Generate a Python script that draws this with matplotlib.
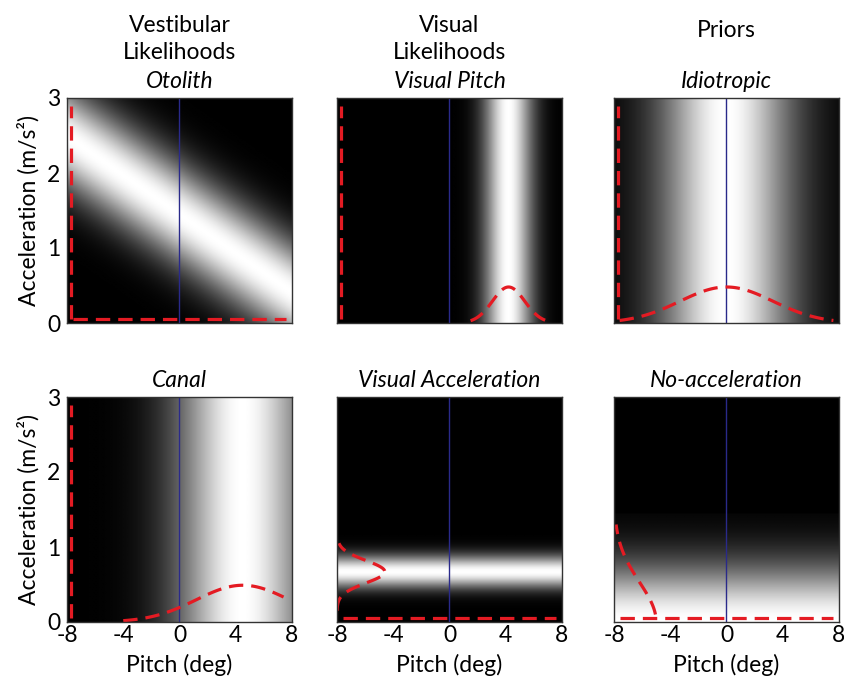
import numpy as np
import matplotlib.pyplot as plt

plt.rcParams['font.family'] = ['Lato', 'DejaVu Sans']
plt.rcParams['axes.unicode_minus'] = False

# axes ranges and ticks
pitch_lim = [-8, 8]
accel_lim = [0, 3]
pitch_ticks = [-8, -4, 0, 4, 8]
accel_ticks = [0, 1, 2, 3]

headers = [['Vestibular', 'Likelihoods'], ['Visual', 'Likelihoods'], ['Priors']]
titles = ['Otolith', 'Visual Pitch', 'Idiotropic',
          'Canal', 'Visual Acceleration', 'No-acceleration']

# gaussian parameters
otolith_center = 1.45    # m/s2 at pitch 0
otolith_slope = -0.13    # m/s2 per deg
otolith_sigma = 0.48
vis_pitch_mu, vis_pitch_sigma = 4.2, 1.2
idio_mu, idio_sigma = 0.0, 3.3
canal_mu, canal_sigma = 4.5, 3.3
vis_acc_mu, vis_acc_sigma = 0.67, 0.15
noacc_sigma, noacc_cut = 0.53, 1.45

# red dashed marginals
flat_pitch_level = 0.05          # y of flat pitch marginal
flat_pitch_range = [-7.6, 7.6]
flat_accel_level = -7.75         # x of flat acceleration marginal
flat_accel_range = [0.05, 2.9]
# pitch marginals: (mu, sigma, peak, pitch from, pitch to)
vis_pitch_marg = [vis_pitch_mu, 1.15, 0.48, 1.5, 6.8]
idio_marg = [idio_mu, idio_sigma, 0.48, -7.6, 7.6]
canal_marg = [canal_mu, canal_sigma, 0.49, -4.0, 7.4]
# acceleration marginals: (mu, sigma, peak, accel from, accel to)
vis_acc_marg = [vis_acc_mu, vis_acc_sigma, 3.4, 0.15, 1.05]
noacc_marg = [0.0, noacc_sigma, 3.0, 0.1, 1.3]

red = '#e41b23'
navy = '#2a2a8a'
dash = (0, (4.5, 2.5))
fs = 16.5

pitch = np.linspace(pitch_lim[0], pitch_lim[1], 400)
accel = np.linspace(accel_lim[0], accel_lim[1], 400)
P, A = np.meshgrid(pitch, accel)


def gauss(x, mu, sig):
    return np.exp(-(x - mu) ** 2 / (2 * sig ** 2))


images = [
    gauss(A, otolith_center + otolith_slope * P, otolith_sigma),
    gauss(P, vis_pitch_mu, vis_pitch_sigma),
    gauss(P, idio_mu, idio_sigma),
    gauss(P, canal_mu, canal_sigma),
    gauss(A, vis_acc_mu, vis_acc_sigma) * np.ones_like(P),
    gauss(A, 0.0, noacc_sigma) * (A < noacc_cut),
]
pitch_margs = [None, vis_pitch_marg, idio_marg, canal_marg, None, None]
accel_margs = [None, None, None, None, vis_acc_marg, noacc_marg]

fig = plt.figure(figsize=(8.45, 6.79), dpi=100)
W, H = 845.0, 679.0
lefts = [67, 337, 614]
tops = [98, 397]
size = 225

for i in range(6):
    r, c = divmod(i, 3)
    ax = fig.add_axes([lefts[c] / W, 1 - (tops[r] + size) / H, size / W, size / H])
    ax.imshow(images[i], extent=pitch_lim + accel_lim, origin='lower',
              aspect='auto', cmap='gray', vmin=0, vmax=1, interpolation='bilinear')
    ax.axvline(0, color=navy, lw=1)

    pm = pitch_margs[i]
    if pm is None:
        xs = np.linspace(flat_pitch_range[0], flat_pitch_range[1], 50)
        ax.plot(xs, np.full_like(xs, flat_pitch_level), color=red, lw=2.3, ls=dash)
    else:
        xs = np.linspace(pm[3], pm[4], 100)
        ax.plot(xs, pm[2] * gauss(xs, pm[0], pm[1]), color=red, lw=2.3, ls=dash)

    am = accel_margs[i]
    if am is None:
        ys = np.linspace(flat_accel_range[0], flat_accel_range[1], 50)
        ax.plot(np.full_like(ys, flat_accel_level), ys, color=red, lw=2.3, ls=dash)
    else:
        ys = np.linspace(am[3], am[4], 100)
        ax.plot(pitch_lim[0] + am[2] * gauss(ys, am[0], am[1]), ys,
                color=red, lw=2.3, ls=dash)

    ax.set_xlim(pitch_lim)
    ax.set_ylim(accel_lim)
    ax.set_xticks(pitch_ticks)
    ax.set_yticks(accel_ticks)
    ax.tick_params(length=0, labelsize=fs)
    ax.tick_params(axis='y', pad=5)
    ax.tick_params(axis='x', pad=2)
    for s in ax.spines.values():
        s.set_color('#333333')
        s.set_linewidth(1)

    if c == 0:
        ax.set_ylabel('Acceleration (m/s²)', fontsize=fs, labelpad=5)
    else:
        ax.set_yticklabels([])
    if r == 1:
        ax.set_xlabel('Pitch (deg)', fontsize=fs, labelpad=6)
    else:
        ax.set_xticklabels([])

    ax.set_title(titles[i], fontsize=fs, style='italic', pad=7)

    if r == 0:
        lines = headers[c]
        if len(lines) == 2:
            ax.text(0.5, 1.293, lines[0], transform=ax.transAxes, ha='center',
                    va='baseline', fontsize=fs)
            ax.text(0.5, 1.173, lines[1], transform=ax.transAxes, ha='center',
                    va='baseline', fontsize=fs)
        else:
            ax.text(0.5, 1.27, lines[0], transform=ax.transAxes, ha='center',
                    va='baseline', fontsize=fs)

fig.savefig('out.png', dpi=100)
